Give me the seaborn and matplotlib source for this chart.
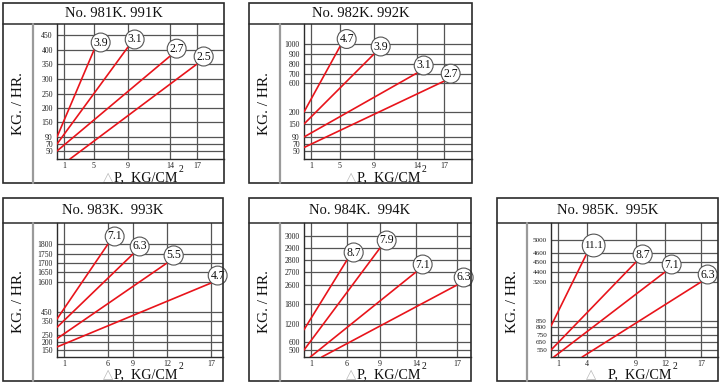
import matplotlib
matplotlib.use("Agg")
import matplotlib.pyplot as plt
from matplotlib.lines import Line2D
from matplotlib.patches import Rectangle
import numpy as np
import pandas as pd
import seaborn as sns

W, H = 720, 386

# ---- values ----
titles = ["No. 981K. 991K", "No. 982K. 992K", "No. 983K.  993K",
          "No. 984K.  994K", "No. 985K.  995K"]

# 981K / 991K
x_ticks_981 = [1, 5, 9, 14, 17]
y_ticks_981 = [50, 70, 90, 150, 200, 250, 300, 350, 400, 450]
labels_981 = ["3.9", "3.1", "2.7", "2.5"]
start_dp_981 = [0, 0, 0, 1.8]
start_kg_981 = [90, 70, 50, 30]
end_dp_981 = [5, 9, 14, 17]
end_kg_981 = [400, 410, 378, 350]

# 982K / 992K
x_ticks_982 = [1, 5, 9, 14, 17]
y_ticks_982 = [50, 70, 90, 150, 200, 600, 700, 800, 900, 1000]
labels_982 = ["4.7", "3.9", "3.1", "2.7"]
start_dp_982 = [0, 0, 0, 0]
start_kg_982 = [200, 150, 90, 60]
end_dp_982 = [5, 9, 14, 17]
end_kg_982 = [975, 900, 710, 620]

# 983K / 993K
x_ticks_983 = [1, 6, 9, 12, 17]
y_ticks_983 = [150, 200, 250, 350, 450, 1600, 1650, 1700, 1750, 1800]
labels_983 = ["7.1", "6.3", "5.5", "4.7"]
start_dp_983 = [0, 0, 0, 0]
start_kg_983 = [372, 305, 224, 169]
end_dp_983 = [6, 9, 12, 17]
end_kg_983 = [1800, 1750, 1700, 1560]

# 984K / 994K
x_ticks_984 = [1, 6, 9, 14, 17]
y_ticks_984 = [500, 600, 1200, 1800, 2600, 2700, 2800, 2900, 3000]
labels_984 = ["8.7", "7.9", "7.1", "6.3"]
start_dp_984 = [0, 0, 0.9, 2.5]
start_kg_984 = [1010, 500, 400, 400]
end_dp_984 = [6, 9, 14, 17]
end_kg_984 = [2800, 2900, 2700, 2600]

# 985K / 995K
x_ticks_985 = [1, 4, 9, 12, 17]
y_ticks_985 = [550, 650, 750, 800, 850, 3200, 4400, 4500, 4600, 5000]
labels_985 = ["11.1", "8.7", "7.1", "6.3"]
start_dp_985 = [0, 0, 0.4, 3.5]
start_kg_985 = [808, 550, 450, 450]
end_dp_985 = [4, 9, 12, 17]
end_kg_985 = [4600, 4500, 4400, 3200]

# ---- layout (pixels): the printed scales are hand drawn, so tick spacing is uneven ----
layouts = [
  dict(box=(3, 3, 224, 183), title_h=21, vline=33, ax_left=57, ax_bottom=159,
       xpos=[7, 37, 71, 113, 140], x_end=20,
       ypos=[8, 15, 22, 37, 51, 65, 80, 95, 109, 124], y_lo=30, y_hi=490,
       xlab_x=57, tri_gap=1, xlab_base=181, ytick_size=5.6),
  dict(box=(249, 3, 472, 183), title_h=21, vline=280, ax_left=304, ax_bottom=159,
       xpos=[7, 36, 70, 113, 140], x_end=20,
       ypos=[8, 15, 22, 35, 47, 76, 85, 95, 105, 115], y_lo=30, y_hi=1200,
       xlab_x=53, tri_gap=1, xlab_base=181, ytick_size=5.6),
  dict(box=(3, 198, 223, 381), title_h=25, vline=33, ax_left=57, ax_bottom=357,
       xpos=[7, 51, 76, 110, 154], x_end=18.5,
       ypos=[7, 15, 22, 36, 45, 75, 85, 94, 103, 113], y_lo=105, y_hi=1910,
       xlab_x=57, tri_gap=1, xlab_base=378, ytick_size=5.6),
  dict(box=(249, 198, 471, 381), title_h=25, vline=280, ax_left=304, ax_bottom=357,
       xpos=[7, 43, 76, 112, 153], x_end=18,
       ypos=[7, 15, 33, 53, 72, 85, 97, 109, 121], y_lo=400, y_hi=3110,
       xlab_x=53, tri_gap=1, xlab_base=378, ytick_size=5.6),
  dict(box=(497, 198, 718, 381), title_h=25, vline=527, ax_left=551, ax_bottom=357,
       xpos=[7, 36, 85, 114, 150], x_end=19.3,
       ypos=[7, 15, 22, 30, 36, 75, 85, 95, 104, 117], y_lo=450, y_hi=5570,
       xlab_x=57, tri_gap=12, xlab_base=378, ytick_size=5.2),
]

RED = "#e8141b"
GRID = "#555555"
DARK = "#2b2b2b"


def fx(x):
  return x / W


def fy(y):
  return 1 - y / H


def make_scale(values, positions):
  """Piecewise linear value -> position mapping, extended linearly past both ends."""
  v = np.asarray(values, float)
  p = np.asarray(positions, float)
  s0 = (p[1] - p[0]) / (v[1] - v[0])
  s1 = (p[-1] - p[-2]) / (v[-1] - v[-2])
  big = 1e6
  v = np.concatenate([[v[0] - big], v, [v[-1] + big]])
  p = np.concatenate([[p[0] - big * s0], p, [p[-1] + big * s1]])

  def forward(a):
    return np.interp(a, v, p)

  def inverse(a):
    return np.interp(a, p, v)

  return forward, inverse


def draw_panel(fig, title, x_ticks, y_ticks, labels, x0, y0, x1, y1, lay):
  bx0, by0, bx1, by1 = lay["box"]
  top = by0 + lay["title_h"]
  left, bottom = lay["ax_left"], lay["ax_bottom"]
  w_px, h_px = bx1 - left, bottom - top

  ax = fig.add_axes([fx(left), fy(bottom), w_px / W, h_px / H])
  ax.set_facecolor("white")

  # uneven printed scales
  ax.set_xscale("function", functions=make_scale([0] + x_ticks + [lay["x_end"]],
                                                 [0] + lay["xpos"] + [w_px]))
  ax.set_yscale("function", functions=make_scale([lay["y_lo"]] + y_ticks + [lay["y_hi"]],
                                                 [0] + lay["ypos"] + [h_px]))

  df = pd.DataFrame({
    "dp": [v for pair in zip(x0, x1) for v in pair],
    "kg": [v for pair in zip(y0, y1) for v in pair],
    "curve": [lab for lab in labels for _ in range(2)],
  })
  sns.lineplot(data=df, x="dp", y="kg", units="curve", estimator=None, sort=False,
               color=RED, linewidth=1.2, ax=ax, legend=False, zorder=3)

  ax.set_xlim(0, lay["x_end"])
  ax.set_ylim(lay["y_lo"], lay["y_hi"])
  ax.set_xticks(x_ticks)
  ax.set_yticks(y_ticks)
  ax.set_xticklabels([str(t) for t in x_ticks])
  ax.set_yticklabels([str(t) for t in y_ticks])
  ax.minorticks_off()
  ax.grid(True, color=GRID, linewidth=0.9)
  ax.set_axisbelow(True)
  ax.tick_params(width=0.8, color=GRID, labelcolor="#222222")
  ax.tick_params(axis="x", length=1.5, labelsize=5.8, pad=0.3)
  ax.tick_params(axis="y", length=2, labelsize=lay["ytick_size"], pad=1)
  ax.set_xlabel("")
  ax.set_ylabel("")
  for side in ["top", "right"]:
    ax.spines[side].set_visible(False)
  for side in ["left", "bottom"]:
    ax.spines[side].set_color(DARK)
    ax.spines[side].set_linewidth(1.0)

  # numbered circles at the line ends
  for lab, xe, ye in zip(labels, x1, y1):
    ax.annotate(lab, xy=(xe, ye), xytext=(4.8, 5.4), textcoords="offset points",
                ha="center", va="center", fontsize=8.5 if len(lab) < 4 else 7.8,
                color="#111111",
                bbox=dict(boxstyle="circle,pad=0.18", fc="white", ec="#555555", lw=0.8),
                annotation_clip=False, zorder=6)

  # frame, title row and y-label column
  fig.add_artist(Rectangle((fx(bx0), fy(by1)), (bx1 - bx0) / W, (by1 - by0) / H,
                           transform=fig.transFigure, fill=False, ec=DARK, lw=1.2, zorder=5))
  fig.add_artist(Line2D([fx(bx0), fx(bx1)], [fy(top), fy(top)], transform=fig.transFigure,
                        color=DARK, lw=1.1, zorder=5))
  fig.add_artist(Line2D([fx(lay["vline"]), fx(lay["vline"])], [fy(top), fy(by1)],
                        transform=fig.transFigure, color="#9a9a9a", lw=1.6, zorder=5))
  fig.text(fx((bx0 + bx1) / 2), fy((by0 + top) / 2), title, ha="center", va="center",
           fontsize=10.5, color="#111111")
  fig.text(fx((bx0 + lay["vline"]) / 2), fy((top + by1) / 2), "KG. / HR.", rotation=90,
           ha="center", va="center", fontsize=11, color="#111111")

  # x label: grey triangle, then "P,  KG/CM" with a raised 2
  xl = left + lay["xlab_x"]
  fig.text(fx(xl - lay["tri_gap"]), fy(lay["xlab_base"]), "\u25b3", ha="right",
           va="baseline", fontsize=9.5, color="#b5b5b5", family=["DejaVu Sans"])
  main_txt = fig.text(fx(xl), fy(lay["xlab_base"]), "P,  KG/CM", ha="left",
                      va="baseline", fontsize=10.2, color="#111111")
  ax.annotate("2", xy=(1.0, 0.8), xycoords=main_txt, xytext=(0.6, 0),
              textcoords="offset points", ha="left", va="bottom", fontsize=7,
              color="#111111", annotation_clip=False)
  return ax


def main():
  sns.set_style("white")
  plt.rcParams["font.family"] = ["Liberation Serif", "DejaVu Sans"]

  fig = plt.figure(figsize=(W / 100, H / 100), dpi=100)
  fig.patch.set_facecolor("white")

  panels = [
    (x_ticks_981, y_ticks_981, labels_981, start_dp_981, start_kg_981, end_dp_981, end_kg_981),
    (x_ticks_982, y_ticks_982, labels_982, start_dp_982, start_kg_982, end_dp_982, end_kg_982),
    (x_ticks_983, y_ticks_983, labels_983, start_dp_983, start_kg_983, end_dp_983, end_kg_983),
    (x_ticks_984, y_ticks_984, labels_984, start_dp_984, start_kg_984, end_dp_984, end_kg_984),
    (x_ticks_985, y_ticks_985, labels_985, start_dp_985, start_kg_985, end_dp_985, end_kg_985),
  ]
  for title, spec, lay in zip(titles, panels, layouts):
    draw_panel(fig, title, *spec, lay)

  fig.savefig("out.png", dpi=100, facecolor="white")
  plt.close(fig)


if __name__ == "__main__":
  main()
